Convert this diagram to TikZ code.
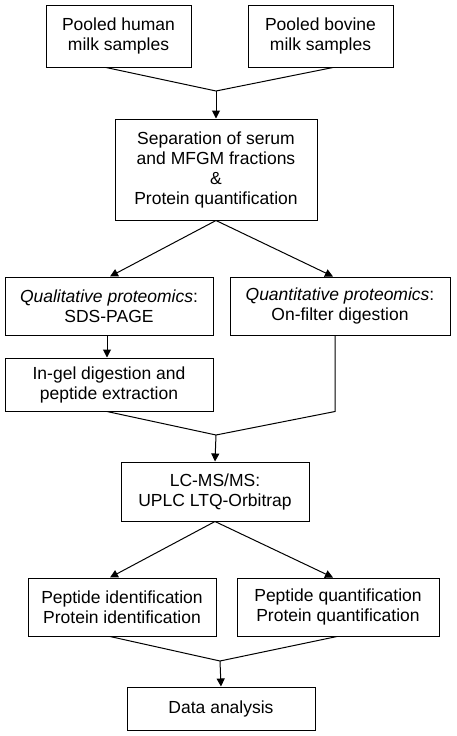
\documentclass[tikz,border=0pt]{standalone}
\usepackage{fontspec}
\setmainfont{Liberation Sans}
\usetikzlibrary{arrows.meta}
\begin{document}
\begin{tikzpicture}[x=1pt,y=-1pt,
  box/.style={draw=black,line width=1pt,align=center,inner sep=0pt,
    font=\fontsize{17.5}{20}\selectfont},
  conn/.style={line width=1pt},
  arr/.style={line width=1pt,-{Triangle[length=8pt,width=8pt]}}]
\useasboundingbox[fill=white] (0,0) rectangle (456,736);
\node[box,minimum width=145pt,minimum height=62pt] (b1) at (118.5,36) {Pooled human\\milk samples};
\node[box,minimum width=145pt,minimum height=62pt] (b2) at (320.5,36) {Pooled bovine\\milk samples};
\node[box,minimum width=202pt,minimum height=101pt] (b3) at (216,169.5) {Separation of serum\\and MFGM fractions\\\&\\Protein quantification};
\node[box,minimum width=208pt,minimum height=58pt] (b4) at (109,306) {\textit{Qualitative proteomics}:\\SDS-PAGE};
\node[box,minimum width=220pt,minimum height=58pt] (b5) at (340,306) {\textit{Quantitative proteomics}:\\On-filter digestion};
\node[box,minimum width=208pt,minimum height=53pt] (b6) at (109,384.5) {In-gel digestion and\\peptide extraction};
\node[box,minimum width=188pt,minimum height=59pt] (b7) at (215,491.5) {LC-MS/MS:\\UPLC LTQ-Orbitrap};
\node[box,minimum width=188pt,minimum height=58pt] (b8) at (122,607) {Peptide identification\\Protein identification};
\node[box,minimum width=202pt,minimum height=58pt] (b9) at (338,607) {Peptide quantification\\Protein quantification};
\node[box,minimum width=188pt,minimum height=43pt] (b10) at (221,708.5) {Data analysis};
\coordinate (j1) at (216,91);
\coordinate (j2) at (216,435);
\coordinate (j3) at (220,661);
\draw[conn] ([xshift=-12.5pt]b1.south) -- (j1) -- ([xshift=12.5pt]b2.south);
\draw[arr] (j1) -- (b3.north);
\draw[arr] (b3.south) -- ([xshift=1pt]b4.north);
\draw[arr] (b3.south) -- ([xshift=-7pt]b5.north);
\draw[arr] ([xshift=-2pt]b4.south) -- ([xshift=-2pt]b6.north);
\draw[conn] ([xshift=-5pt]b5.south) -- ([xshift=-5pt]b5.south |- b6.south) -- (j2) -- ([xshift=-2pt]b6.south);
\draw[arr] (j2) -- (b7.north);
\draw[arr] (b7.south) -- ([xshift=-12pt]b8.north);
\draw[arr] (b7.south) -- ([xshift=-5pt]b9.north);
\draw[conn] ([xshift=-12pt]b8.south) -- (j3) -- ([xshift=-1pt]b9.south);
\draw[arr] (j3) -- (b10.north);
\end{tikzpicture}
\end{document}
